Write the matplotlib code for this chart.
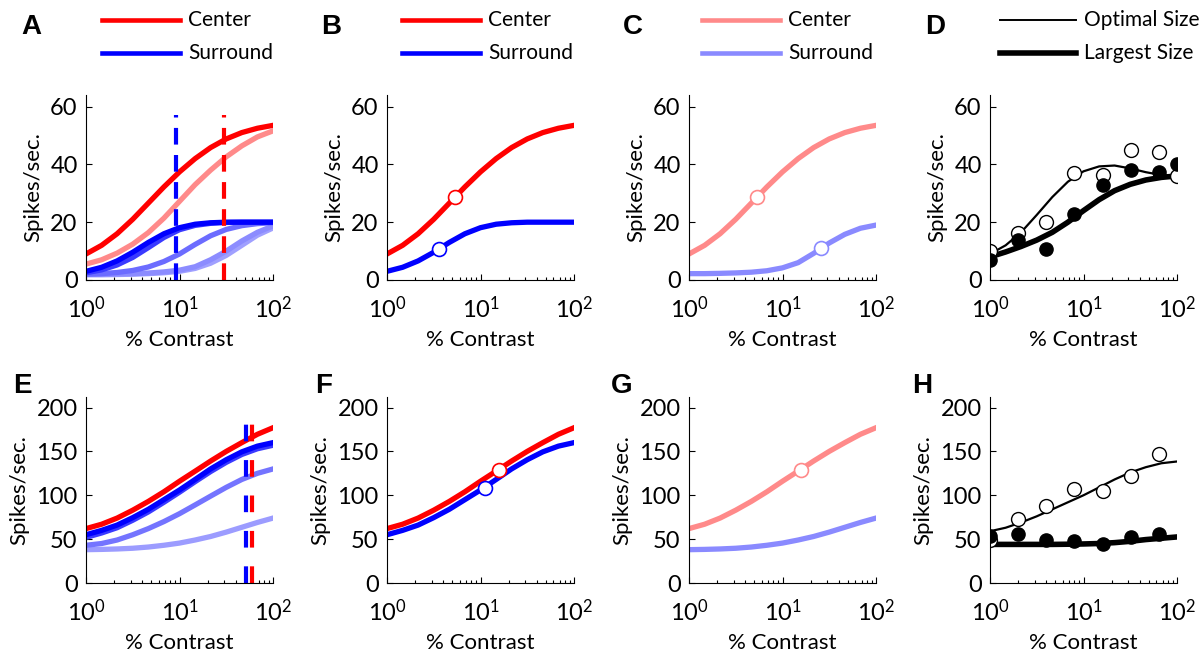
import numpy as np
import matplotlib
matplotlib.use("Agg")
import matplotlib.pyplot as plt
from matplotlib.ticker import FixedLocator, LogLocator, NullFormatter

plt.rcParams['font.family'] = ['Lato', 'DejaVu Sans']
plt.rcParams['mathtext.fontset'] = 'custom'
plt.rcParams['mathtext.rm'] = 'Lato'
plt.rcParams['lines.solid_joinstyle'] = 'round'

# contrast samples (log spaced)
c = [1, 1.47, 2.15, 3.16, 4.64, 6.81, 10, 14.7, 21.5, 31.6, 46.4, 68.1, 100]

# top row (A-C)
center_top = [9, 12, 16, 21, 26.6, 32.2, 37.4, 42, 45.8, 48.8, 51, 52.5, 53.5]
center_top_light = [5.5, 7, 9.3, 12.4, 16.4, 21.4, 27.2, 33, 38, 42.6, 46.4, 49.5, 51.6]
surr_top = [
    [1.8, 1.8, 1.9, 2, 2.2, 2.5, 3, 4, 5.8, 8.5, 12, 15.5, 18],
    [2, 2, 2.1, 2.2, 2.4, 2.8, 3.4, 4.6, 7, 10, 13.5, 16.5, 18.7],
    [2, 2.2, 2.6, 3.3, 4.5, 6.4, 9, 12.3, 15.3, 17.5, 18.8, 19.5, 19.8],
    [2.5, 3.5, 5.2, 7.8, 11.2, 14.7, 17.4, 18.9, 19.6, 19.9, 20, 20, 20],
    [3, 4.4, 6.6, 9.6, 13, 16, 18.1, 19.3, 19.8, 20, 20, 20, 20],
]
surr_top_C = [2.2, 2.2, 2.3, 2.45, 2.7, 3.2, 4.2, 6, 9.2, 12.8, 15.8, 17.9, 19]
dash_top = [9.2, 30]          # blue, red
pt_B_center = (5.3, 28.7)
pt_B_surr = (3.6, 10.8)
pt_C_surr = (25.6, 10.9)

# bottom row (E-G)
center_bot = [62, 67, 74, 83, 93, 104, 116, 127.5, 139, 150, 160, 169.5, 177]
surr_bot = [
    [38, 38.3, 38.8, 39.6, 41, 43, 45.5, 49, 53, 58, 63.5, 69, 74],
    [43, 45, 49, 55, 62, 70, 79, 89, 99, 109, 118, 125, 130],
    [52, 57, 63, 71.5, 81, 92, 103.5, 115.5, 127, 137.5, 146.5, 153, 157],
    [55, 60, 66, 74.5, 84, 95, 106, 118, 130, 140.5, 149.5, 156, 160],
]
dash_bot = [51.5, 59]
pt_F_center = (15.6, 128.4)
pt_F_surr = (11.2, 108.6)

# D and H measured data + fits
cd = [1, 2, 4, 8, 16, 32, 64, 100]
D_opt = [10.2, 16.2, 19.9, 37, 36.2, 44.9, 44.2, 36]
D_large = [6.8, 14, 10.8, 22.8, 32.8, 37.9, 37.2, 40]
D_opt_fit = [9, 12, 16.5, 22.5, 28.7, 34, 37.6, 39.3, 39.6, 38.6, 37.3, 36.3, 36]
D_large_fit = [8, 9.7, 11.6, 13.8, 16.5, 20, 24, 27.8, 30.9, 33.1, 34.6, 35.5, 36]
ch = [1, 2, 4, 8, 16, 32, 64]
H_opt = [48.7, 73, 87.5, 107, 105, 122, 147.5]
H_large = [54, 55.5, 48.7, 48, 45, 52.5, 55.5]
H_opt_fit = [59, 63, 69, 76, 84, 92, 100, 109, 118, 126, 132, 136.5, 138.5]
H_large_fit = [44, 44, 44, 44, 44, 44.2, 44.5, 45, 46, 47.5, 49.5, 51, 52.5]

RED = '#ff0000'
BLUE = '#0000ff'
LRED = '#ff8a8a'
LBLUE = '#8a8aff'
surr_cols_top = ['#a0a0ff', '#8c8cff', '#6c6cff', '#3a3aff', '#0000ff']
surr_cols_bot = ['#9c9cff', '#7474ff', '#3a3aff', '#0000ff']

W, H = 1204, 653
fig = plt.figure(figsize=(W / 100, H / 100), dpi=100)

lefts = [86, 387, 689, 990]
rows = [(95, 280, 64, [0, 20, 40, 60]), (397, 583, 212, [0, 50, 100, 150, 200])]
axes = []
for r, (top, bot, ymax, yt) in enumerate(rows):
    for i, l in enumerate(lefts):
        ax = fig.add_axes([l / W, 1 - bot / H, 187 / W, (bot - top) / H])
        ax.set_xscale('log')
        ax.set_xlim(1, 100)
        ax.set_ylim(0, ymax)
        ax.set_yticks(yt)
        ax.xaxis.set_major_locator(FixedLocator([1, 10, 100]))
        ax.set_xticklabels([r'$\mathregular{10^{0}}$', r'$\mathregular{10^{1}}$', r'$\mathregular{10^{2}}$'])
        ax.xaxis.set_minor_locator(LogLocator(base=10, subs=np.arange(2, 10)))
        ax.xaxis.set_minor_formatter(NullFormatter())
        for s in ['top', 'right']:
            ax.spines[s].set_visible(False)
        ax.tick_params(which='both', direction='in', labelsize=17, width=0.8)
        ax.tick_params(which='major', length=4)
        ax.tick_params(which='minor', length=2)
        ax.tick_params(axis='y', pad=6)
        ax.tick_params(axis='x', pad=11)
        ax.set_ylabel('Spikes/sec.', fontsize=16, labelpad=5)
        ax.set_xlabel('% Contrast', fontsize=16, labelpad=6)
        axes.append(ax)

axA, axB, axC, axD, axE, axF, axG, axH = axes
lw = 3.8
mk = dict(marker='o', ms=10, mfc='white', mew=1.2, ls='none', zorder=5)

# A
axA.plot(c, center_top_light, color=LRED, lw=lw)
axA.plot(c, center_top, color=RED, lw=lw)
for ys, col in zip(surr_top, surr_cols_top):
    axA.plot(c, ys, color=col, lw=lw)
axA.plot([dash_top[1]] * 2, [0, 57], color=RED, lw=3, ls=(0, (4, 2.5)))
axA.plot([dash_top[0]] * 2, [0, 57], color=BLUE, lw=3, ls=(0, (4, 2.5)))

# B
axB.plot(c, center_top, color=RED, lw=lw)
axB.plot(c, surr_top[-1], color=BLUE, lw=lw)
axB.plot(*pt_B_center, mec=RED, **mk)
axB.plot(*pt_B_surr, mec=BLUE, **mk)

# C
axC.plot(c, center_top, color=LRED, lw=lw)
axC.plot(c, surr_top_C, color=LBLUE, lw=lw)
axC.plot(*pt_B_center, mec=LRED, **mk)
axC.plot(*pt_C_surr, mec=LBLUE, **mk)

# D
axD.plot(c, D_opt_fit, color='black', lw=1.6)
axD.plot(c, D_large_fit, color='black', lw=4)
axD.plot(cd, D_opt, marker='o', ms=10, mfc='white', mec='black', mew=1, ls='none')
axD.plot(cd, D_large, marker='o', ms=9.5, mfc='black', mec='black', ls='none')

# E
axE.plot(c, center_bot, color=RED, lw=lw)
for ys, col in zip(surr_bot, surr_cols_bot):
    axE.plot(c, ys, color=col, lw=lw)
axE.plot([dash_bot[1]] * 2, [0, 198], color=RED, lw=3, ls=(0, (4, 4.5)))
axE.plot([dash_bot[0]] * 2, [0, 198], color=BLUE, lw=3, ls=(0, (4, 4.5)))

# F
axF.plot(c, center_bot, color=RED, lw=lw)
axF.plot(c, surr_bot[-1], color=BLUE, lw=lw)
axF.plot(*pt_F_center, mec=RED, **mk)
axF.plot(*pt_F_surr, mec=BLUE, **mk)

# G
axG.plot(c, center_bot, color=LRED, lw=lw)
axG.plot(c, surr_bot[0], color=LBLUE, lw=lw)
axG.plot(*pt_F_center, mec=LRED, **mk)

# H
axH.plot(c, H_opt_fit, color='black', lw=1.6)
axH.plot(c, H_large_fit, color='black', lw=4)
axH.plot(ch, H_opt, marker='o', ms=10, mfc='white', mec='black', mew=1, ls='none')
axH.plot(ch, H_large, marker='o', ms=9.5, mfc='black', mec='black', ls='none')

# overlay for panel letters and legends (pixel coords)
ov = fig.add_axes([0, 0, 1, 1], zorder=-1)
ov.set_xlim(0, W)
ov.set_ylim(H, 0)
ov.axis('off')
letters = [('A', 21, 27), ('B', 321, 27), ('C', 623, 27), ('D', 925, 27),
           ('E', 13, 386), ('F', 315, 386), ('G', 611, 386), ('H', 912, 386)]
for t, x, y in letters:
    ov.text(x, y, t, fontsize=20, fontweight='bold', family='Liberation Sans', va='center', ha='left')

legs = [(102, 78, RED, BLUE, 'Center', 'Surround', 3.3, 3.3),
        (402, 78, RED, BLUE, 'Center', 'Surround', 3.3, 3.3),
        (702, 78, LRED, LBLUE, 'Center', 'Surround', 3.3, 3.3),
        (1000, 76, 'black', 'black', 'Optimal Size', 'Largest Size', 1.4, 4)]
for x0, ln, c1, c2, t1, t2, w1, w2 in legs:
    ov.plot([x0, x0 + ln], [20, 20], color=c1, lw=w1)
    ov.plot([x0, x0 + ln], [53, 53], color=c2, lw=w2)
    ov.text(x0 + ln + 8, 20, t1, fontsize=15, va='center')
    ov.text(x0 + ln + 8, 53, t2, fontsize=15, va='center')

fig.savefig('out.png', dpi=100)
